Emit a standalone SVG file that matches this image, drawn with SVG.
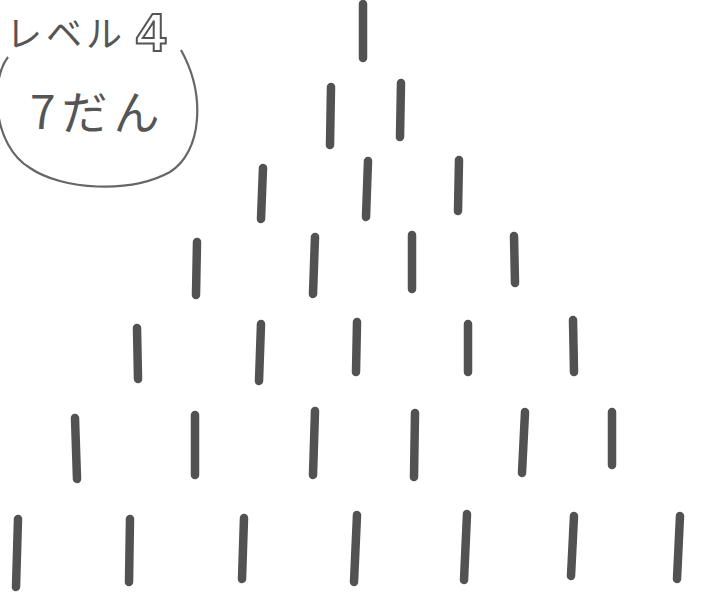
<svg xmlns="http://www.w3.org/2000/svg" width="701" height="607" viewBox="0 0 701 607">
<style>
.s{stroke:#525252;stroke-width:8.5;stroke-linecap:round;fill:none}
.t{font-family:"Noto Sans CJK JP","Noto Sans",sans-serif;fill:#555}
</style>
<rect width="701" height="607" fill="#ffffff"/>
<g id="label">
<text class="t" x="6" y="47" font-size="36" letter-spacing="4">レベル</text>
<text x="136" y="51" font-family="Liberation Sans,sans-serif" font-size="54" font-weight="bold" fill="#fff" stroke="#555" stroke-width="2">4</text>
<text class="t" x="30" y="129" font-size="46" letter-spacing="6">7だん</text>
<path d="M 8 57 C -10 80, -8 145, 30 168 C 62 190, 130 194, 170 172 C 202 152, 206 95, 181 50" fill="none" stroke="#666" stroke-width="2.2"/>
</g>
<g id="sticks">
<line class="s" x1="363" y1="4" x2="363" y2="58"/>
<line class="s" x1="331" y1="87" x2="330" y2="145"/>
<line class="s" x1="401" y1="83" x2="400" y2="137"/>
<line class="s" x1="263" y1="168" x2="261" y2="219"/>
<line class="s" x1="368" y1="161" x2="366" y2="217"/>
<line class="s" x1="459" y1="160" x2="458" y2="211"/>
<line class="s" x1="197" y1="242" x2="196" y2="295"/>
<line class="s" x1="315" y1="237" x2="313" y2="294"/>
<line class="s" x1="412" y1="235" x2="412" y2="289"/>
<line class="s" x1="514" y1="236" x2="515" y2="283"/>
<line class="s" x1="137" y1="328" x2="138" y2="379"/>
<line class="s" x1="261" y1="324" x2="259" y2="381"/>
<line class="s" x1="357" y1="322" x2="356" y2="372"/>
<line class="s" x1="468" y1="324" x2="468" y2="372"/>
<line class="s" x1="573" y1="320" x2="574" y2="372"/>
<line class="s" x1="75" y1="418" x2="77" y2="479"/>
<line class="s" x1="195" y1="415" x2="195" y2="475"/>
<line class="s" x1="315" y1="411" x2="313" y2="475"/>
<line class="s" x1="415" y1="413" x2="414" y2="477"/>
<line class="s" x1="525" y1="412" x2="522" y2="473"/>
<line class="s" x1="612" y1="412" x2="612" y2="465"/>
<line class="s" x1="18" y1="519" x2="16" y2="587"/>
<line class="s" x1="130" y1="519" x2="129" y2="582"/>
<line class="s" x1="244" y1="518" x2="242" y2="579"/>
<line class="s" x1="357" y1="515" x2="354" y2="582"/>
<line class="s" x1="467" y1="514" x2="464" y2="580"/>
<line class="s" x1="574" y1="516" x2="571" y2="576"/>
<line class="s" x1="680" y1="516" x2="677" y2="579"/>
</g>
</svg>
